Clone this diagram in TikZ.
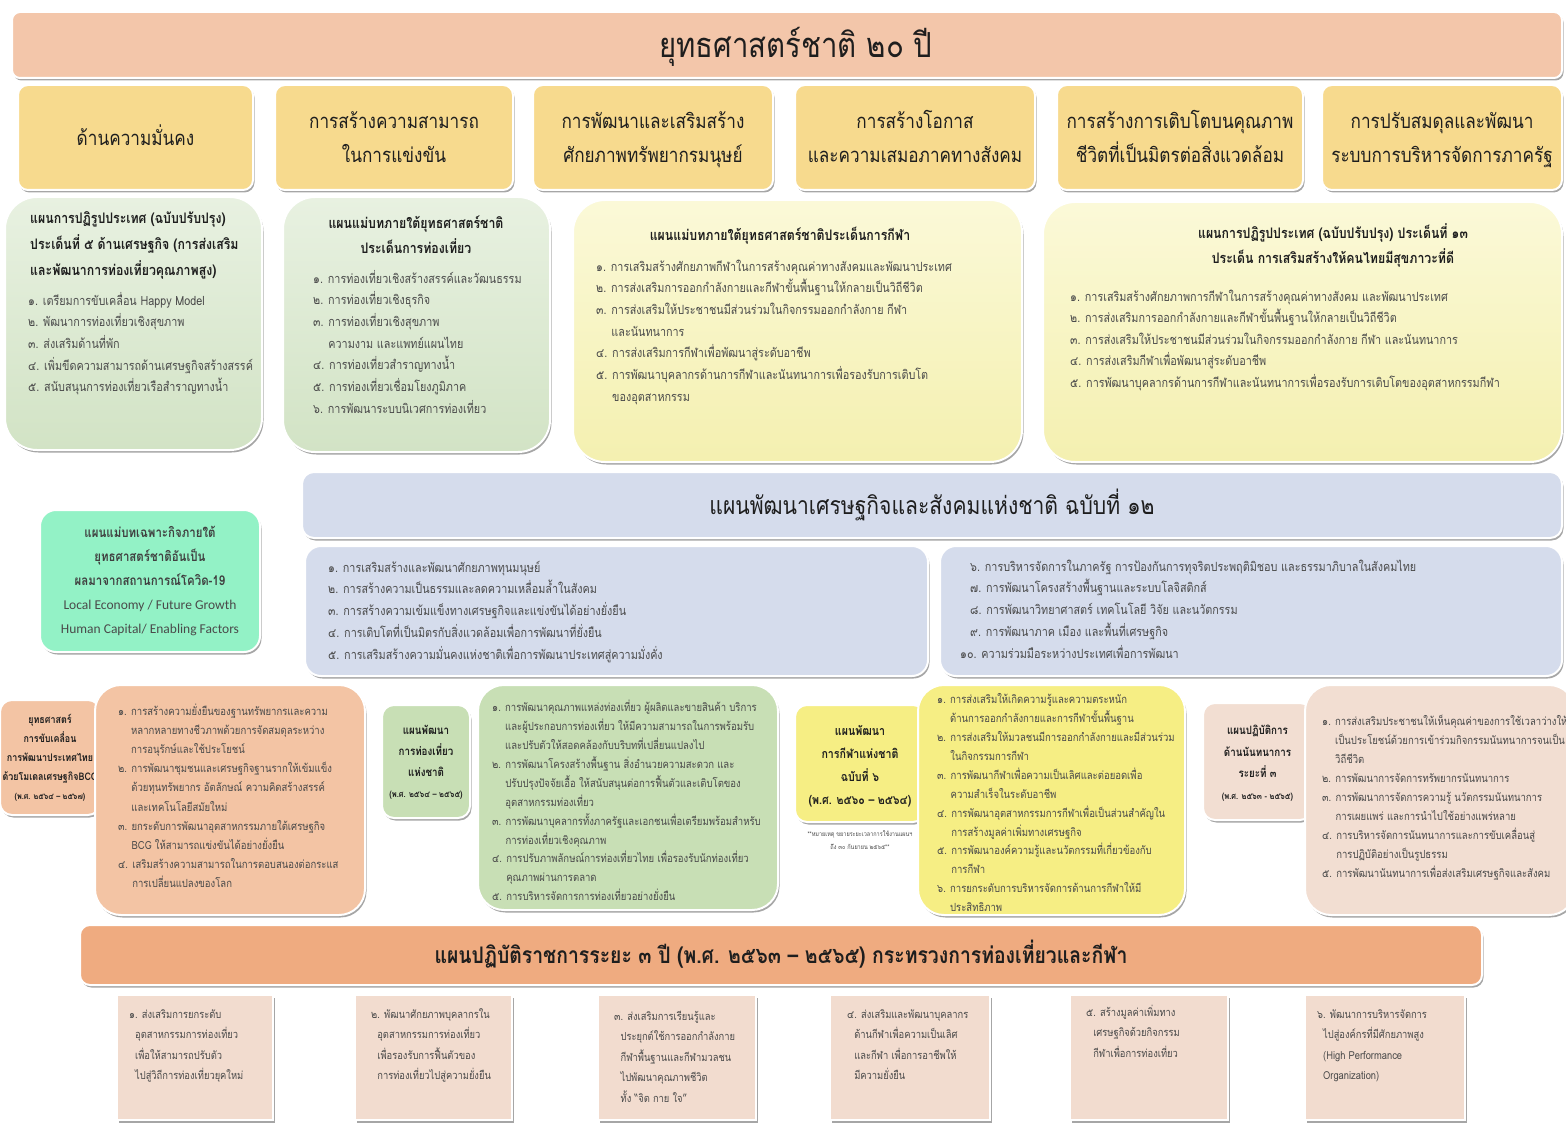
\documentclass[tikz,border=0pt]{standalone}
\usepackage{fontspec}
\newfontfamily\thai[Script=Thai,FakeStretch=0.85]{Loma}
\newfontfamily\latf{Carlito}
\usetikzlibrary{shadows}
\newcommand\setfs[2]{\fontsize{#1}{#2}\selectfont}
\newcommand\tstr{\rule{0pt}{1.1em}}
\newcommand\bstr{\rule[-0.35em]{0pt}{0.35em}}
\definecolor{listgray}{HTML}{4A4A4A}
\definecolor{headc}{HTML}{1E1E1E}
\definecolor{cTitle}{HTML}{F3C6AA}
\definecolor{cTop}{HTML}{F7DA8E}
\definecolor{cGreenL}{HTML}{DCE9D2}
\definecolor{cGreenLt}{HTML}{E8F1E1}
\definecolor{cGreenLb}{HTML}{D2E3C5}
\definecolor{cYelL}{HTML}{F8F5C2}
\definecolor{cYelLt}{HTML}{FBF9D8}
\definecolor{cYelLb}{HTML}{F4F0B0}
\definecolor{cBlue}{HTML}{D5DCEC}
\definecolor{cMint}{HTML}{93F2C6}
\definecolor{cOrange}{HTML}{F3C4A4}
\definecolor{cGreenM}{HTML}{C8DFB5}
\definecolor{cYelM}{HTML}{F6EE84}
\definecolor{cPink}{HTML}{F2DED2}
\definecolor{cBar}{HTML}{EFAB80}
\definecolor{cSq}{HTML}{F2DCCF}
\tikzset{
  bx/.style={draw=white, line width=2pt, inner sep=0pt,
    drop shadow={shadow xshift=1.5pt, shadow yshift=-2.5pt, fill=black, opacity=0.35}},
  lst/.style={anchor=north west, align=left, inner sep=0pt, text=listgray},
  hdr/.style={align=center, text=headc},
  gshade/.style={top color=cGreenLt, bottom color=cGreenLb},
  yshade/.style={top color=cYelLt, bottom color=cYelLb},
}
\begin{document}
\begin{tikzpicture}[x=1pt,y=-1pt,font=\thai]
\fill[white] (0,0) rectangle (1566,1126);
\useasboundingbox (0,0) rectangle (1566,1126);

% ---- title
\node[bx, rounded corners=8pt, fill=cTitle, minimum width=1550pt, minimum height=66pt, hdr, font=\thai\setfs{34.5}{38}] (title) at (787,45) {\tstr\hspace*{18pt}ยุทธศาสตร์ชาติ ๒๐ ปี\bstr};

% ---- six strategies
\foreach \n/\cx/\w/\t in {s1/135.5/235/{ด้านความมั่นคง},
  s2/394/238/{การสร้างความสามารถ\\ในการแข่งขัน},
  s3/653/240/{การพัฒนาและเสริมสร้าง\\ศักยภาพทรัพยากรมนุษย์},
  s4/915/240/{การสร้างโอกาส\\และความเสมอภาคทางสังคม},
  s5/1180/246/{การสร้างการเติบโตบนคุณภาพ\\ชีวิตที่เป็นมิตรต่อสิ่งแวดล้อม},
  s6/1442/240/{การปรับสมดุลและพัฒนา\\ระบบการบริหารจัดการภาครัฐ}}
  \node[bx, rounded corners=10pt, fill=cTop, minimum width=\w pt, minimum height=105pt, hdr, font=\thai\setfs{20.2}{34}] (\n) at (\cx,137.5) {\tstr\t\bstr};

% ---- row 2
\node[bx, rounded corners=32pt, gshade, minimum width=257pt, minimum height=253pt] (g1) at (133.5,323.5) {};
\node[lst, text=headc, font=\thai\bfseries\setfs{14.5}{26}] (g1h) at (30,207.4) {\tstr แผนการปฏิรูปประเทศ (ฉบับปรับปรุง)\\ประเด็นที่ ๕ ด้านเศรษฐกิจ (การส่งเสริม\\และพัฒนาการท่องเที่ยวคุณภาพสูง)};
\node[lst, font=\thai\setfs{12.7}{21.7}] (g1l) at (28,291) {\tstr ๑. เตรียมการขับเคลื่อน Happy Model\\๒. พัฒนาการท่องเที่ยวเชิงสุขภาพ\\๓. ส่งเสริมด้านที่พัก\\๔. เพิ่มขีดความสามารถด้านเศรษฐกิจสร้างสรรค์\\๕. สนับสนุนการท่องเที่ยวเรือสำราญทางน้ำ};

\node[bx, rounded corners=32pt, gshade, minimum width=267pt, minimum height=255pt] (g2) at (416.5,324.5) {};
\node[hdr, anchor=north, inner sep=0pt, font=\thai\bfseries\setfs{14.5}{25}] (g2h) at (416,212.4) {\tstr แผนแม่บทภายใต้ยุทธศาสตร์ชาติ\\ประเด็นการท่องเที่ยว};
\node[lst, font=\thai\setfs{12.7}{21.7}] (g2l) at (313,269) {\tstr ๑. การท่องเที่ยวเชิงสร้างสรรค์และวัฒนธรรม\\๒. การท่องเที่ยวเชิงธุรกิจ\\๓. การท่องเที่ยวเชิงสุขภาพ\\\phantom{๓. }ความงาม และแพทย์แผนไทย\\๔. การท่องเที่ยวสำราญทางน้ำ\\๕. การท่องเที่ยวเชื่อมโยงภูมิภาค\\๖. การพัฒนาระบบนิเวศการท่องเที่ยว};

\node[bx, rounded corners=32pt, yshade, minimum width=449pt, minimum height=262pt] (y1) at (797.5,331) {};
\node[hdr, anchor=north, inner sep=0pt, font=\thai\bfseries\setfs{14.5}{25}] (y1h) at (780,224.4) {\tstr แผนแม่บทภายใต้ยุทธศาสตร์ชาติประเด็นการกีฬา};
\node[lst, font=\thai\setfs{12.7}{21.7}] (y1l) at (596,257) {\tstr ๑. การเสริมสร้างศักยภาพกีฬาในการสร้างคุณค่าทางสังคมและพัฒนาประเทศ\\๒. การส่งเสริมการออกกำลังกายและกีฬาขั้นพื้นฐานให้กลายเป็นวิถีชีวิต\\๓. การส่งเสริมให้ประชาชนมีส่วนร่วมในกิจกรรมออกกำลังกาย กีฬา\\\phantom{๓. }และนันทนาการ\\๔. การส่งเสริมการกีฬาเพื่อพัฒนาสู่ระดับอาชีพ\\๕. การพัฒนาบุคลากรด้านการกีฬาและนันทนาการเพื่อรองรับการเติบโต\\\phantom{๕. }ของอุตสาหกรรม};

\node[bx, rounded corners=32pt, yshade, minimum width=519pt, minimum height=260pt] (y2) at (1302.5,332) {};
\node[hdr, anchor=north, inner sep=0pt, font=\thai\bfseries\setfs{14.5}{25}] (y2h) at (1333,222.4) {\tstr แผนการปฏิรูปประเทศ (ฉบับปรับปรุง) ประเด็นที่ ๑๓\\ประเด็น การเสริมสร้างให้คนไทยมีสุขภาวะที่ดี};
\node[lst, font=\thai\setfs{12.7}{21.6}] (y2l) at (1070,287) {\tstr ๑. การเสริมสร้างศักยภาพการกีฬาในการสร้างคุณค่าทางสังคม และพัฒนาประเทศ\\๒. การส่งเสริมการออกกำลังกายและกีฬาขั้นพื้นฐานให้กลายเป็นวิถีชีวิต\\๓. การส่งเสริมให้ประชาชนมีส่วนร่วมในกิจกรรมออกกำลังกาย กีฬา และนันทนาการ\\๔. การส่งเสริมกีฬาเพื่อพัฒนาสู่ระดับอาชีพ\\๕. การพัฒนาบุคลากรด้านการกีฬาและนันทนาการเพื่อรองรับการเติบโตของอุตสาหกรรมกีฬา};

% ---- national plan 12
\node[bx, rounded corners=12pt, fill=cBlue, minimum width=1260pt, minimum height=66pt, hdr, font=\thai\setfs{24.8}{30}] (np) at (932,505) {\tstr แผนพัฒนาเศรษฐกิจและสังคมแห่งชาติ ฉบับที่ ๑๒\bstr};
\node[bx, rounded corners=16pt, fill=cBlue, minimum width=623pt, minimum height=130pt] (npl) at (616.5,611) {};
\node[lst, font=\thai\setfs{12.7}{21.75}] (nplt) at (328,558) {\tstr ๑. การเสริมสร้างและพัฒนาศักยภาพทุนมนุษย์\\๒. การสร้างความเป็นธรรมและลดความเหลื่อมล้ำในสังคม\\๓. การสร้างความเข้มแข็งทางเศรษฐกิจและแข่งขันได้อย่างยั่งยืน\\๔. การเติบโตที่เป็นมิตรกับสิ่งแวดล้อมเพื่อการพัฒนาที่ยั่งยืน\\๕. การเสริมสร้างความมั่นคงแห่งชาติเพื่อการพัฒนาประเทศสู่ความมั่งคั่ง};
\node[bx, rounded corners=16pt, fill=cBlue, minimum width=622pt, minimum height=130pt] (npr) at (1251,611) {};
\node[lst, font=\thai\setfs{12.7}{21.75}] (nprt) at (970,557) {\tstr ๖. การบริหารจัดการในภาครัฐ การป้องกันการทุจริตประพฤติมิชอบ และธรรมาภิบาลในสังคมไทย\\๗. การพัฒนาโครงสร้างพื้นฐานและระบบโลจิสติกส์\\๘. การพัฒนาวิทยาศาสตร์ เทคโนโลยี วิจัย และนวัตกรรม\\๙. การพัฒนาภาค เมือง และพื้นที่เศรษฐกิจ\\\hspace*{-10pt}๑๐. ความร่วมมือระหว่างประเทศเพื่อการพัฒนา};

% ---- covid plan
\node[bx, rounded corners=16pt, fill=cMint, minimum width=220pt, minimum height=142pt] (cv) at (150,581) {};
\node[hdr, anchor=north, inner sep=0pt, text=headc!85, font=\thai\bfseries\setfs{13.5}{24}] (cvt) at (150,522) {\tstr แผนแม่บทเฉพาะกิจภายใต้\\ยุทธศาสตร์ชาติอันเป็น\\ผลมาจากสถานการณ์โควิด-19\\{\latf\mdseries\setfs{13.5}{24}\color{listgray}Local Economy / Future Growth}\\{\latf\mdseries\setfs{13.5}{24}\color{listgray}Human Capital/ Enabling Factors}};

% ---- bottom plans
\node[bx, rounded corners=12pt, fill=cOrange, minimum width=100pt, minimum height=115pt] (bcg) at (50,757.5) {};
\node[hdr, anchor=north, inner sep=0pt, font=\thai\bfseries\setfs{10.5}{19}] (bcgt) at (50,711.6) {\tstr ยุทธศาสตร์\\การขับเคลื่อน\\การพัฒนาประเทศไทย\\ด้วยโมเดลเศรษฐกิจBCG\\{\setfs{8.5}{19}(พ.ศ. ๒๕๖๔ – ๒๕๖๗)}};
\node[bx, rounded corners=26pt, fill=cOrange, minimum width=270pt, minimum height=230pt] (bcgl) at (230,800) {};
\node[lst, font=\thai\setfs{11.2}{19.1}] (bcglt) at (118,703) {\tstr ๑. การสร้างความยั่งยืนของฐานทรัพยากรและความ\\\phantom{๑. }หลากหลายทางชีวภาพด้วยการจัดสมดุลระหว่าง\\\phantom{๑. }การอนุรักษ์และใช้ประโยชน์\\๒. การพัฒนาชุมชนและเศรษฐกิจฐานรากให้เข้มแข็ง\\\phantom{๒. }ด้วยทุนทรัพยากร อัตลักษณ์ ความคิดสร้างสรรค์\\\phantom{๒. }และเทคโนโลยีสมัยใหม่\\๓. ยกระดับการพัฒนาอุตสาหกรรมภายใต้เศรษฐกิจ\\\phantom{๓. }BCG ให้สามารถแข่งขันได้อย่างยั่งยืน\\๔. เสริมสร้างความสามารถในการตอบสนองต่อกระแส\\\phantom{๔. }การเปลี่ยนแปลงของโลก};

\node[bx, rounded corners=12pt, fill=cGreenM, minimum width=88pt, minimum height=113pt] (tp) at (426,761.5) {};
\node[hdr, anchor=north, inner sep=0pt, font=\thai\bfseries\setfs{11.5}{21}] (tpt) at (426,721.8) {\tstr แผนพัฒนา\\การท่องเที่ยว\\แห่งชาติ\\{\setfs{8.8}{21}(พ.ศ. ๒๕๖๔ – ๒๕๖๕)}};
\node[bx, rounded corners=26pt, fill=cGreenM, minimum width=300pt, minimum height=225pt] (tpl) at (628,797.5) {};
\node[lst, font=\thai\setfs{11.2}{18.9}] (tplt) at (492,699.2) {\tstr ๑. การพัฒนาคุณภาพแหล่งท่องเที่ยว ผู้ผลิตและขายสินค้า บริการ\\\phantom{๑. }และผู้ประกอบการท่องเที่ยว ให้มีความสามารถในการพร้อมรับ\\\phantom{๑. }และปรับตัวให้สอดคล้องกับบริบทที่เปลี่ยนแปลงไป\\๒. การพัฒนาโครงสร้างพื้นฐาน สิ่งอำนวยความสะดวก และ\\\phantom{๒. }ปรับปรุงปัจจัยเอื้อ ให้สนับสนุนต่อการฟื้นตัวและเติบโตของ\\\phantom{๒. }อุตสาหกรรมท่องเที่ยว\\๓. การพัฒนาบุคลากรทั้งภาครัฐและเอกชนเพื่อเตรียมพร้อมสำหรับ\\\phantom{๓. }การท่องเที่ยวเชิงคุณภาพ\\๔. การปรับภาพลักษณ์การท่องเที่ยวไทย เพื่อรองรับนักท่องเที่ยว\\\phantom{๔. }คุณภาพผ่านการตลาด\\๕. การบริหารจัดการการท่องเที่ยวอย่างยั่งยืน};

\node[bx, rounded corners=12pt, fill=cYelM, minimum width=130pt, minimum height=117pt] (sp) at (860,763.5) {};
\node[hdr, anchor=north, inner sep=0pt, font=\thai\bfseries\setfs{12.5}{23}] (spt) at (860,722) {\tstr แผนพัฒนา\\การกีฬาแห่งชาติ\\ฉบับที่ ๖\\(พ.ศ. ๒๕๖๐ – ๒๕๖๔)};
\node[hdr, anchor=north, inner sep=0pt, text=listgray, font=\thai\setfs{6.5}{13}] (note) at (860,829) {\tstr **หมายเหตุ ขยายระยะเวลาการใช้งานแผนฯ\\ถึง ๓๐ กันยายน ๒๕๖๕**};
\node[bx, rounded corners=26pt, fill=cYelM, minimum width=267pt, minimum height=230pt] (spl) at (1051.5,800) {};
\node[lst, font=\thai\setfs{11.2}{18.9}] (splt) at (937,691.2) {\tstr ๑. การส่งเสริมให้เกิดความรู้และความตระหนัก\\\phantom{๑. }ด้านการออกกำลังกายและการกีฬาขั้นพื้นฐาน\\๒. การส่งเสริมให้มวลชนมีการออกกำลังกายและมีส่วนร่วม\\\phantom{๒. }ในกิจกรรมการกีฬา\\๓. การพัฒนากีฬาเพื่อความเป็นเลิศและต่อยอดเพื่อ\\\phantom{๓. }ความสำเร็จในระดับอาชีพ\\๔. การพัฒนาอุตสาหกรรมการกีฬาเพื่อเป็นส่วนสำคัญใน\\\phantom{๔. }การสร้างมูลค่าเพิ่มทางเศรษฐกิจ\\๕. การพัฒนาองค์ความรู้และนวัตกรรมที่เกี่ยวข้องกับ\\\phantom{๕. }การกีฬา\\๖. การยกระดับการบริหารจัดการด้านการกีฬาให้มี\\\phantom{๖. }ประสิทธิภาพ};

\node[bx, rounded corners=12pt, fill=cPink, minimum width=109pt, minimum height=117pt] (rc) at (1257.5,761.5) {};
\node[hdr, anchor=north, inner sep=0pt, font=\thai\bfseries\setfs{11.5}{21.5}] (rct) at (1257.5,721.8) {\tstr แผนปฏิบัติการ\\ด้านนันทนาการ\\ระยะที่ ๓\\{\setfs{8.8}{19}(พ.ศ. ๒๕๖๓ - ๒๕๖๕)}};
\node[bx, rounded corners=26pt, fill=cPink, minimum width=270pt, minimum height=230pt] (rcl) at (1440,800) {};
\node[lst, font=\thai\setfs{11.2}{19}] (rclt) at (1322,713.2) {\tstr ๑. การส่งเสริมประชาชนให้เห็นคุณค่าของการใช้เวลาว่างให้\\\phantom{๑. }เป็นประโยชน์ด้วยการเข้าร่วมกิจกรรมนันทนาการจนเป็น\\\phantom{๑. }วิถีชีวิต\\๒. การพัฒนาการจัดการทรัพยากรนันทนาการ\\๓. การพัฒนาการจัดการความรู้ นวัตกรรมนันทนาการ\\\phantom{๓. }การเผยแพร่ และการนำไปใช้อย่างแพร่หลาย\\๔. การบริหารจัดการนันทนาการและการขับเคลื่อนสู่\\\phantom{๔. }การปฏิบัติอย่างเป็นรูปธรรม\\๕. การพัฒนานันทนาการเพื่อส่งเสริมเศรษฐกิจและสังคม};

% ---- ministry plan bar
\node[bx, rounded corners=10pt, fill=cBar, minimum width=1402pt, minimum height=60pt, hdr, font=\thai\bfseries\setfs{22.8}{26}] (bar) at (781,955) {\tstr แผนปฏิบัติราชการระยะ ๓ ปี (พ.ศ. ๒๕๖๓ – ๒๕๖๕) กระทรวงการท่องเที่ยวและกีฬา\bstr};

% ---- six bottom boxes
\foreach \n/\cx/\w in {b1/195/156, b2/433.5/157, b3/677/158, b4/910/160, b5/1149/158, b6/1385/160}
  \node[bx, draw=white, fill=cSq, minimum width=\w pt, minimum height=125pt] (\n) at (\cx,1057.5) {};
\tikzset{sq/.style={lst, font=\thai\setfs{11}{20.5}}}
\node[sq] (b1t) at ([xshift=13pt,yshift=-12pt]b1.north west) {\tstr ๑. ส่งเสริมการยกระดับ\\\phantom{๑}อุตสาหกรรมการท่องเที่ยว\\\phantom{๑}เพื่อให้สามารถปรับตัว\\\phantom{๑}ไปสู่วิถีการท่องเที่ยวยุคใหม่};
\node[sq] (b2t) at ([xshift=17pt,yshift=-12pt]b2.north west) {\tstr ๒. พัฒนาศักยภาพบุคลากรใน\\\phantom{๒}อุตสาหกรรมการท่องเที่ยว\\\phantom{๒}เพื่อรองรับการฟื้นตัวของ\\\phantom{๒}การท่องเที่ยวไปสู่ความยั่งยืน};
\node[sq] (b3t) at ([xshift=17pt,yshift=-14pt]b3.north west) {\tstr ๓. ส่งเสริมการเรียนรู้และ\\\phantom{๓}ประยุกต์ใช้การออกกำลังกาย\\\phantom{๓}กีฬาพื้นฐานและกีฬามวลชน\\\phantom{๓}ไปพัฒนาคุณภาพชีวิต\\\phantom{๓}ทั้ง “จิต กาย ใจ”};
\node[sq] (b4t) at ([xshift=18pt,yshift=-12pt]b4.north west) {\tstr ๔. ส่งเสริมและพัฒนาบุคลากร\\\phantom{๔}ด้านกีฬาเพื่อความเป็นเลิศ\\\phantom{๔}และกีฬา เพื่อการอาชีพให้\\\phantom{๔}มีความยั่งยืน};
\node[sq] (b5t) at ([xshift=17pt,yshift=-10pt]b5.north west) {\tstr ๕. สร้างมูลค่าเพิ่มทาง\\\phantom{๕}เศรษฐกิจด้วยกิจกรรม\\\phantom{๕}กีฬาเพื่อการท่องเที่ยว};
\node[sq] (b6t) at ([xshift=13pt,yshift=-12pt]b6.north west) {\tstr ๖. พัฒนาการบริหารจัดการ\\\phantom{๖}ไปสู่องค์กรที่มีศักยภาพสูง\\\phantom{๖}(High Performance\\\phantom{๖}Organization)};
\end{tikzpicture}
\end{document}
